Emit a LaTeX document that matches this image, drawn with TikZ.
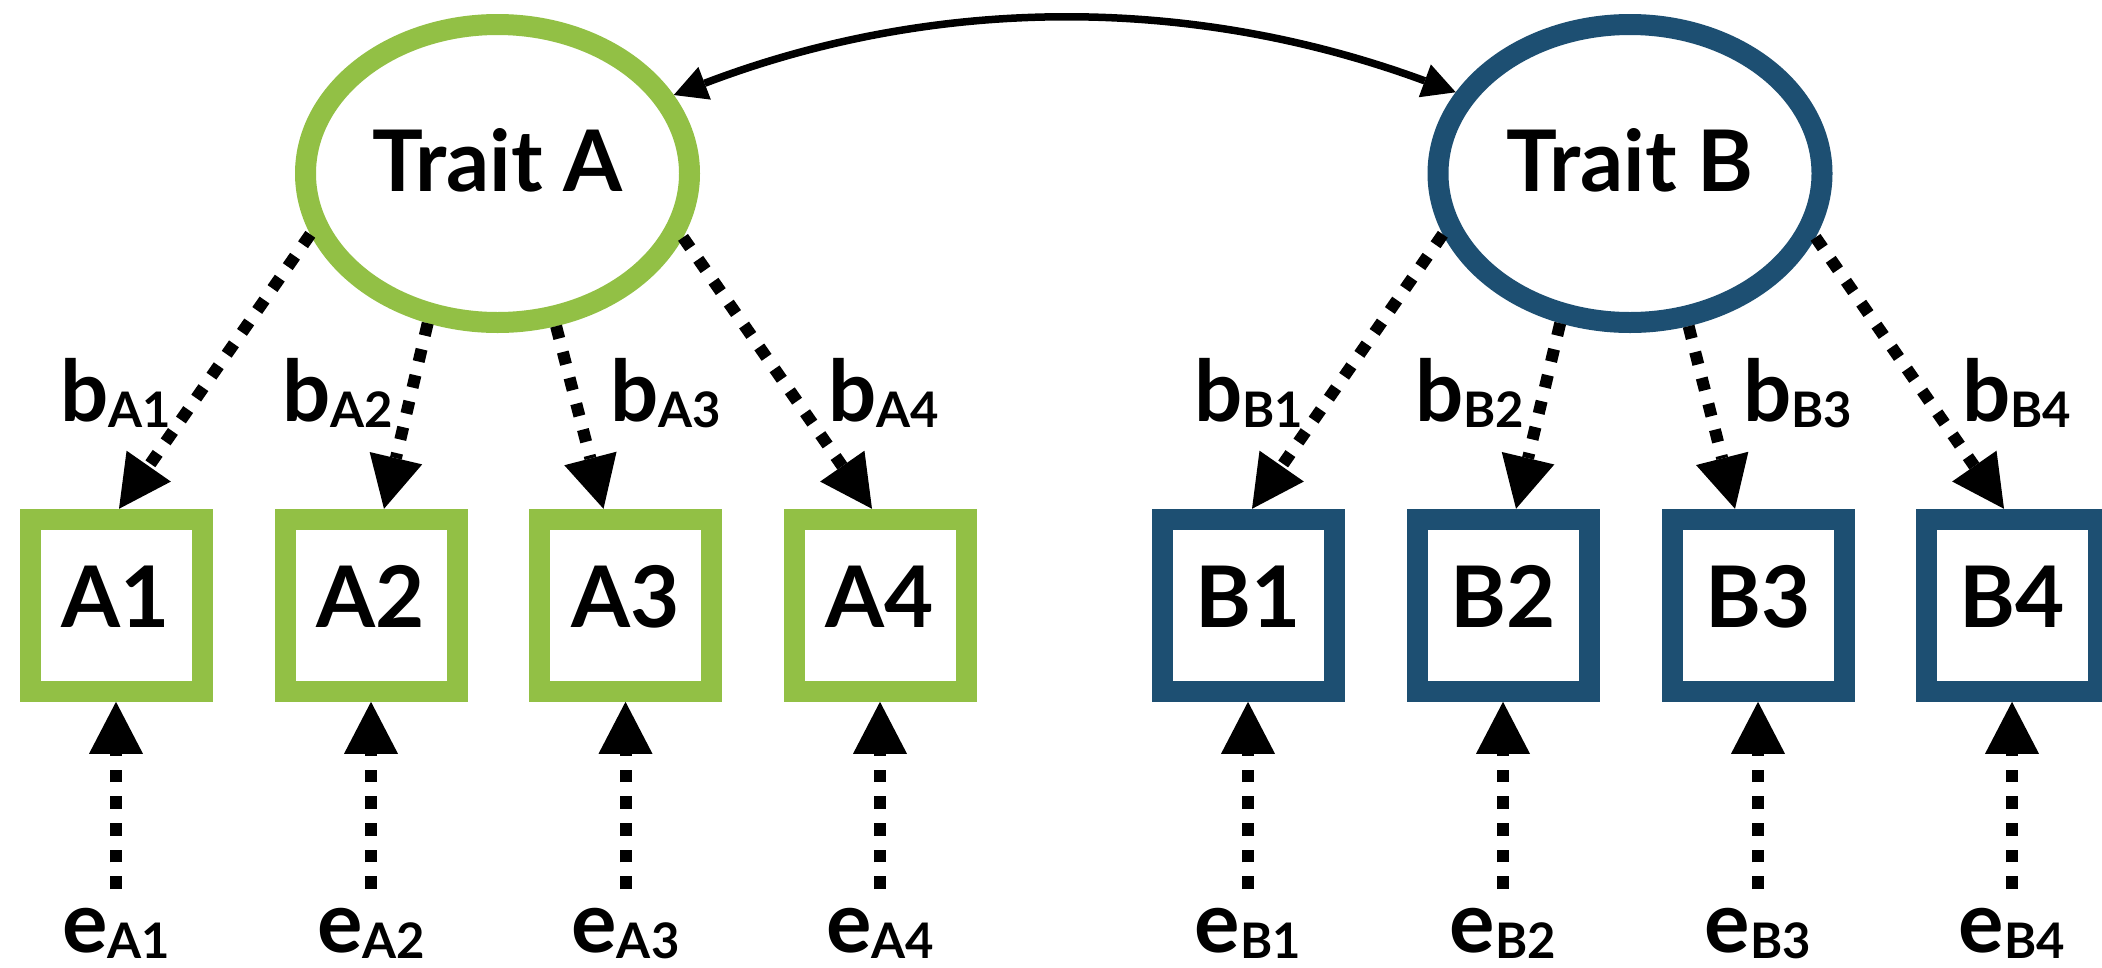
\documentclass[tikz,border=0pt]{standalone}
\usepackage{fontspec}
\setmainfont{Lato}
\usetikzlibrary{arrows.meta,shapes.geometric,calc}
\definecolor{traitgreen}{RGB}{146,192,69}
\definecolor{traitblue}{RGB}{29,79,114}
% lowered, smaller index after a coefficient letter
\newcommand{\subtag}[1]{\raisebox{-6pt}{\fontsize{49}{50}\selectfont #1}}

\begin{document}
\begin{tikzpicture}[x=1pt,y=-1pt,
  big/.style={font=\fontsize{85}{90}\selectfont\bfseries},
  trait/.style={ellipse, draw=#1, line width=21pt, fill=white,
    minimum width=384pt, minimum height=298pt, inner sep=0pt, big,
    text height=61pt, text depth=26pt},
  indicator/.style={rectangle, draw=#1, line width=21pt, fill=white,
    minimum width=172pt, minimum height=172pt, inner sep=0pt, big,
    text height=61pt, text depth=16pt},
  coef/.style={big, inner sep=0pt, anchor=base west},
  resid/.style={big, inner sep=0pt, anchor=base},
  load/.style={line width=12pt, dash pattern=on 12.7pt off 14pt,
    -{Triangle[length=52pt,width=54pt,line width=0pt]}},
  cov/.style={line width=7.5pt,
    {Triangle[length=33pt,width=35pt,line width=0pt]}-{Triangle[length=33pt,width=35pt,line width=0pt]}},
]
\useasboundingbox (0,0) rectangle (2102,967);

% latent traits
\node[trait=traitgreen] (TA) at (497.5,173.5) {Trait A};
\node[trait=traitblue] (TB) at (1630,173.5) {Trait B};

% covariance between the traits
\draw[cov] (TA.24.6) .. controls (936,-5) and (1192,-5) .. (TB.155.5);

% indicators of trait A
\foreach \n/\x/\dx/\bx/\ang in {1/116/3/60/198.7, 2/371/13/282/245.1, 3/625.5/-22/610/291.7, 4/880/-8/828/341.3}{
  \node[indicator=traitgreen] (A\n) at (\x,605.3) {A\n};
  \draw[load] (TA.\ang) -- ($(A\n.north)+(\dx,0)$);
  \node[coef] (bA\n) at (\bx,421) {b\subtag{A\n}};
  \node[resid] (eA\n) at (\x,952) {e\subtag{A\n}};
  \coordinate (sA\n) at (\x,889);
  \draw[load] (sA\n) -- (A\n.south);
}

% indicators of trait B
\foreach \n/\x/\dx/\bx/\ang in {1/1248/4/1194/198.7, 2/1503/13/1415/245.1, 3/1758/-23/1743/291.7, 4/2012/-8/1962/341.3}{
  \node[indicator=traitblue] (B\n) at (\x,605.3) {B\n};
  \draw[load] (TB.\ang) -- ($(B\n.north)+(\dx,0)$);
  \node[coef] (bB\n) at (\bx,421) {b\subtag{B\n}};
  \node[resid] (eB\n) at (\x,952) {e\subtag{B\n}};
  \coordinate (sB\n) at (\x,889);
  \draw[load] (sB\n) -- (B\n.south);
}
\end{tikzpicture}
\end{document}
